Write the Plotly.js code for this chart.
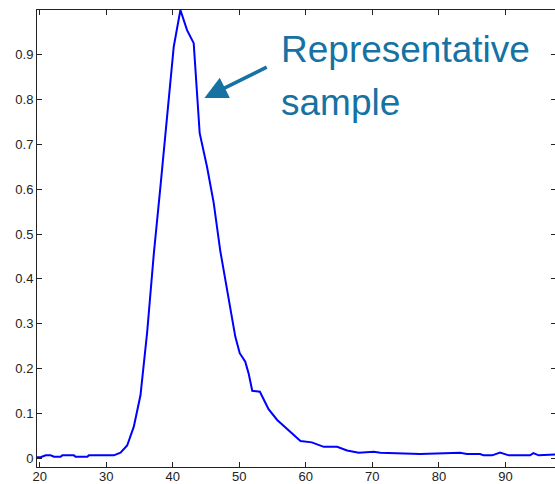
<!DOCTYPE html>
<html>
<head>
<meta charset="utf-8">
<script src="https://cdn.plot.ly/plotly-3.0.1.min.js"></script>
<style>
html, body { margin: 0; padding: 0; overflow: hidden; background: #fff; }
#chart { width: 557px; height: 484px; }
</style>
</head>
<body>
<div id="chart"></div>
<script>
// Signal curve (x position, normalized intensity)
const xValues = [19.6, 20.15, 20.9, 21.65, 22.15, 23.15, 23.4, 25.15, 25.4, 27.15, 27.4, 31.15, 32.15, 33.15, 34.15, 35.15, 36.15, 37.15, 38.15, 39.15, 40.15, 41.15, 42.15, 43.15, 44.05, 45.15, 46.15, 47.15, 48.15, 48.9, 49.4, 50.07, 50.9, 51.4, 51.95, 53.1, 54.4, 55.7, 57.7, 59.2, 60.9, 62.7, 64.7, 66.2, 67.95, 70.2, 71.2, 77.2, 83.2, 84.2, 86.2, 86.7, 88, 89.2, 90.5, 93.7, 94.2, 95, 97.6];
const yValues = [0.002, 0.002, 0.006, 0.006, 0.003, 0.003, 0.006, 0.006, 0.003, 0.003, 0.006, 0.006, 0.012, 0.028, 0.07, 0.14, 0.28, 0.455, 0.606, 0.77, 0.918, 1.0, 0.955, 0.926, 0.725, 0.65, 0.57, 0.462, 0.375, 0.308, 0.271, 0.234, 0.215, 0.189, 0.15, 0.148, 0.109, 0.085, 0.059, 0.038, 0.035, 0.025, 0.025, 0.017, 0.012, 0.014, 0.012, 0.009, 0.012, 0.009, 0.009, 0.006, 0.006, 0.012, 0.006, 0.006, 0.011, 0.006, 0.008];

const xTicks = [20, 30, 40, 50, 60, 70, 80, 90];
const xTickLabels = ["20", "30", "40", "50", "60", "70", "80", "90"];
const yTicks = [0, 0.1, 0.2, 0.3, 0.4, 0.5, 0.6, 0.7, 0.8, 0.9];
const yTickLabels = ["0", "0.1", "0.2", "0.3", "0.4", "0.5", "0.6", "0.7", "0.8", "0.9"];

const annotationLines = ["Representative", "sample"];

const fontFam = "Liberation Sans, Arial, Helvetica, sans-serif";
const annColor = "#1672a3";

const trace = {
  x: xValues,
  y: yValues,
  type: "scatter",
  mode: "lines",
  line: { color: "#0000ff", width: 2 },
  hoverinfo: "none"
};

const axisCommon = {
  showgrid: false,
  zeroline: false,
  showline: true,
  linecolor: "#222",
  linewidth: 1,
  mirror: "ticks",
  ticks: "inside",
  ticklen: 5,
  tickwidth: 1,
  tickcolor: "#222",
  tickfont: { family: fontFam, size: 13, color: "#222" },
  tickmode: "array"
};

const layout = {
  width: 557,
  height: 484,
  margin: { l: 37, r: 1, t: 10, b: 17 },
  paper_bgcolor: "#fff",
  plot_bgcolor: "#fff",
  showlegend: false,
  xaxis: Object.assign({}, axisCommon, {
    range: [19.6, 97.6],
    tickvals: xTicks,
    ticktext: xTickLabels,
    ticklabelstandoff: -3
  }),
  yaxis: Object.assign({}, axisCommon, {
    range: [-0.02, 1.0],
    tickvals: yTicks,
    ticktext: yTickLabels
  }),
  annotations: [
    {
      xref: "paper", yref: "paper",
      x: 0.466, y: 0.914,
      xanchor: "left", yanchor: "middle",
      text: annotationLines[0],
      showarrow: false,
      font: { family: fontFam, size: 37, color: annColor }
    },
    {
      xref: "paper", yref: "paper",
      x: 0.466, y: 0.797,
      xanchor: "left", yanchor: "middle",
      text: annotationLines[1],
      showarrow: false,
      font: { family: fontFam, size: 37, color: annColor }
    },
    {
      xref: "x", yref: "y",
      x: 44.76, y: 0.8036,
      axref: "x", ayref: "y",
      ax: 54.35, ay: 0.874,
      text: "",
      showarrow: true,
      arrowhead: 2,
      arrowsize: 1.3,
      arrowwidth: 3.5,
      arrowcolor: annColor
    }
  ]
};

Plotly.newPlot("chart", [trace], layout, { displayModeBar: false, staticPlot: true });
</script>
</body>
</html>
